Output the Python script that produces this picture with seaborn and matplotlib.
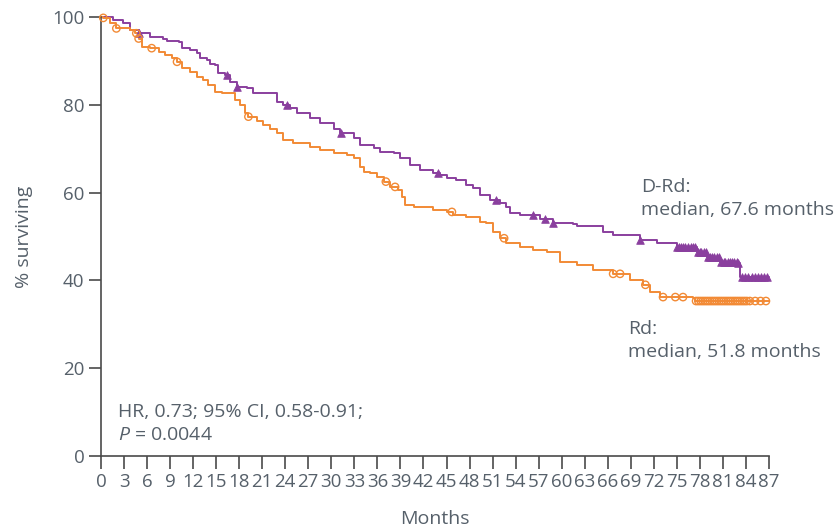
import numpy as np
import pandas as pd
import matplotlib
matplotlib.use("Agg")
import matplotlib.pyplot as plt
import seaborn as sns

# Kaplan-Meier step points (months, % surviving)
drd_time = [0.0, 0.3, 1.6, 2.9, 3.8, 4.9, 6.4, 8.1, 8.6, 10.1, 10.5, 11.6, 12.5, 12.9,
            13.8, 14.2, 14.8, 15.3, 16.2, 16.8, 17.7, 19.0, 19.8, 22.4, 22.9, 23.7,
            24.6, 25.5, 27.2, 28.5, 30.3, 31.1, 32.9, 33.7, 35.5, 36.3, 38.1, 38.9,
            40.2, 41.5, 43.3, 44.2, 45.0, 46.3, 47.6, 48.5, 49.4, 50.7, 52.0, 52.8,
            53.3, 54.6, 57.2, 58.9, 61.5, 62.0, 65.4, 66.7, 70.2, 72.4, 75.0, 77.6,
            78.9, 80.6, 83.0, 83.2, 87.0]
drd_surv = [100.0, 100.0, 99.3, 98.6, 97.0, 96.3, 95.5, 95.0, 94.5, 94.4, 93.0, 92.5, 91.7, 90.6,
            90.2, 89.4, 89.1, 87.2, 86.8, 85.3, 84.1, 83.8, 82.6, 82.6, 80.7, 80.0,
            79.2, 78.1, 76.9, 75.8, 74.6, 73.5, 72.4, 70.8, 70.1, 69.3, 69.0, 67.8,
            66.3, 65.1, 64.4, 64.0, 63.3, 62.9, 61.7, 61.0, 59.5, 58.3, 57.6, 56.8,
            55.3, 54.9, 54.1, 53.1, 52.8, 52.4, 51.0, 50.3, 49.2, 48.5, 47.6, 46.5,
            45.3, 44.2, 44.0, 40.7, 40.7]

rd_time = [0.0, 0.3, 1.2, 2.0, 3.8, 4.4, 4.9, 5.3, 6.4, 7.5, 8.3, 9.2, 9.9, 10.5, 11.6,
           12.5, 13.3, 14.0, 14.8, 15.7, 17.5, 18.1, 18.8, 19.2, 20.3, 21.1, 22.0,
           22.9, 23.7, 25.0, 27.2, 28.5, 30.3, 32.0, 32.9, 33.7, 34.2, 35.0, 35.9,
           36.8, 37.6, 38.7, 39.2, 39.6, 40.7, 43.3, 45.0, 45.9, 47.6, 49.4, 50.2,
           51.1, 52.0, 52.8, 54.6, 56.3, 58.1, 59.8, 62.0, 64.1, 66.7, 68.9, 70.6,
           71.5, 72.8, 77.1, 77.4, 87.0]
rd_surv = [100.0, 99.8, 98.6, 97.4, 97.0, 96.3, 95.1, 93.2, 92.9, 92.1, 91.3, 90.7, 89.8, 88.3, 87.5,
           86.4, 85.6, 84.5, 83.0, 82.6, 81.1, 80.0, 78.1, 77.3, 76.2, 75.4, 74.6,
           73.5, 72.0, 71.2, 70.5, 69.7, 69.0, 68.6, 67.8, 65.9, 64.8, 64.4, 63.6,
           62.5, 61.3, 60.6, 59.1, 57.2, 56.8, 56.0, 55.6, 54.9, 54.5, 53.4, 53.0,
           51.1, 49.6, 48.5, 47.7, 46.9, 46.5, 44.2, 43.5, 42.4, 41.5, 40.1, 39.0,
           37.4, 36.2, 36.0, 35.3, 35.3]

# Censoring times (months)
drd_censor = [4.9, 16.4, 17.7, 24.2, 31.2, 43.9, 51.5, 56.3, 57.8, 58.9, 70.2,
              75.0, 75.3, 75.6, 75.8, 76.1, 76.4, 76.8, 77.1, 77.4, 77.7, 78.0, 78.2,
              78.5, 78.8, 79.1, 79.3, 79.6, 79.9, 80.2, 80.5, 80.8, 81.1, 81.3, 81.6,
              81.9, 82.2, 82.5, 82.8, 83.0,
              83.5, 83.9, 84.3, 84.8, 85.2, 85.6, 86.0, 86.4, 86.8]
rd_censor = [0.3, 2.0, 4.6, 4.9, 6.6, 9.9, 19.2, 37.1, 38.3, 45.7, 52.5, 66.7, 67.6,
             70.9, 73.2, 74.8, 75.8, 77.5, 77.8, 78.1, 78.4, 78.7, 79.0, 79.3, 79.6,
             79.9, 80.2, 80.5, 80.8, 81.1, 81.4, 81.7, 82.0, 82.3, 82.6, 82.9, 83.2,
             83.5, 83.8, 84.1, 84.5, 85.2, 85.9, 86.6]

x_ticks = list(range(0, 88, 3))
y_ticks = [0, 20, 40, 60, 80, 100]

PURPLE = "#8a3f9e"
ORANGE = "#f28a35"
TEXT = "#56606a"
AXIS = "#4a4a4a"

sns.set_style("ticks")
plt.rcParams["font.family"] = ["Open Sans", "DejaVu Sans"]
plt.rcParams["mathtext.fontset"] = "custom"
plt.rcParams["mathtext.it"] = "Open Sans:italic"
plt.rcParams["mathtext.rm"] = "Open Sans"


def surv_at(times, surv, t):
    idx = np.searchsorted(np.asarray(times), np.asarray(t), side="right") - 1
    return np.asarray(surv)[np.clip(idx, 0, len(surv) - 1)]


km = pd.concat([
    pd.DataFrame({"month": drd_time, "surv": drd_surv, "arm": "D-Rd"}),
    pd.DataFrame({"month": rd_time, "surv": rd_surv, "arm": "Rd"}),
])
cens_drd = pd.DataFrame({"month": drd_censor, "surv": surv_at(drd_time, drd_surv, drd_censor)})
cens_rd = pd.DataFrame({"month": rd_censor, "surv": surv_at(rd_time, rd_surv, rd_censor)})

fig = plt.figure(figsize=(8.34, 5.31), dpi=100)
ax = fig.add_axes([101 / 834, 1 - 456 / 531, 668 / 834, 439 / 531])

palette = {"D-Rd": PURPLE, "Rd": ORANGE}
for arm, grp in km.groupby("arm"):
    sns.lineplot(data=grp, x="month", y="surv", ax=ax, color=palette[arm],
                 drawstyle="steps-post", estimator=None, sort=False,
                 linewidth=1.4, clip_on=False, legend=False)

sns.scatterplot(data=cens_drd, x="month", y="surv", ax=ax, marker="^", s=30,
                color=PURPLE, edgecolor=PURPLE, linewidth=0.6, clip_on=False, zorder=3)
sns.scatterplot(data=cens_rd, x="month", y="surv", ax=ax, marker="o", s=28,
                facecolor="none", edgecolor=ORANGE, linewidth=1.0, clip_on=False, zorder=3)

ax.set_xlim(0, 87)
ax.set_ylim(0, 100)
ax.set_xticks(x_ticks)
ax.set_yticks(y_ticks)
ax.set_xticklabels([str(v) for v in x_ticks])
ax.set_yticklabels([str(v) for v in y_ticks])
sns.despine(ax=ax)
for side in ("left", "bottom"):
    ax.spines[side].set_color(AXIS)
    ax.spines[side].set_linewidth(1.2)
ax.tick_params(axis="both", direction="out", length=9, width=1.2, color=AXIS,
               labelcolor=TEXT, labelsize=13.5, pad=3)
ax.tick_params(axis="x", pad=3)

ax.set_xlabel("Months", fontsize=14, color=TEXT, labelpad=14)
ax.set_ylabel("% surviving", fontsize=14, color=TEXT, labelpad=14)

# Arm annotations, one text per line placed on its baseline
ann = dict(fontsize=14, color=TEXT, ha="left", va="baseline")
ax.text(70.3, 60.2, "D-Rd:", **ann)
ax.text(70.3, 54.9, "median, 67.6 months", **ann)
ax.text(68.6, 27.8, "Rd:", **ann)
ax.text(68.6, 22.6, "median, 51.8 months", **ann)
ax.text(2.2, 8.9, "HR, 0.73; 95% CI, 0.58-0.91;", **ann)
ax.text(2.2, 3.6, "$\\mathit{P}$ = 0.0044", **ann)

fig.savefig("out.png", dpi=100)
